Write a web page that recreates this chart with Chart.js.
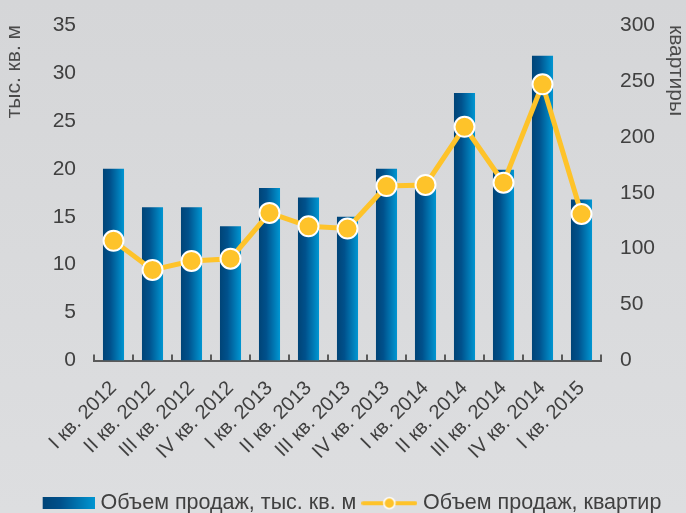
<!DOCTYPE html>
<html>
<head>
<meta charset="utf-8">
<script src="https://cdn.jsdelivr.net/npm/chart.js@4.4.1/dist/chart.umd.min.js"></script>
<style>
  html, body { margin: 0; padding: 0; }
  body { width: 686px; height: 513px; background: linear-gradient(#d5d6d8, #dddee0); }
  #wrap { position: relative; width: 686px; height: 513px; }
</style>
</head>
<body>
<div id="wrap"><canvas id="salesChart"></canvas></div>
<script>
const quarters = ["I кв. 2012", "II кв. 2012", "III кв. 2012", "IV кв. 2012",
    "I кв. 2013", "II кв. 2013", "III кв. 2013", "IV кв. 2013",
    "I кв. 2014", "II кв. 2014", "III кв. 2014", "IV кв. 2014", "I кв. 2015"];
const areaSold = [20, 16, 16, 14, 18, 17, 15, 20, 18.3, 27.9, 19.9, 31.8, 16.8];
const flatsSold = [107, 81, 89, 91, 132, 120, 118, 156, 157, 209, 159, 247, 131];
const areaLabel = "Объем продаж, тыс. кв. м";
const flatsLabel = "Объем продаж, квартир";

const textColor = "#404040";
const lineColor = "#fec32a";
const barPct = 0.54;

function barGradient(ctx) {
    const chart = ctx.chart;
    const xs = chart.scales.x;
    if (!xs || ctx.dataIndex === undefined) return "#00548f";
    const c = xs.getPixelForValue(ctx.dataIndex);
    const half = xs.width / quarters.length * barPct / 2;
    const g = chart.ctx.createLinearGradient(c - half, 0, c + half, 0);
    g.addColorStop(0, "#004477");
    g.addColorStop(0.35, "#00518c");
    g.addColorStop(1, "#0096d2");
    return g;
}

// legend swatches
const barSwatch = document.createElement("canvas");
barSwatch.width = 56; barSwatch.height = 12;
(function () {
    const c = barSwatch.getContext("2d");
    const g = c.createLinearGradient(4, 0, 56, 0);
    g.addColorStop(0, "#004477");
    g.addColorStop(0.35, "#00518c");
    g.addColorStop(1, "#0096d2");
    c.fillStyle = g;
    c.fillRect(4, 0, 52, 12);
})();
const lineSwatch = document.createElement("canvas");
lineSwatch.width = 56; lineSwatch.height = 14;
(function () {
    const c = lineSwatch.getContext("2d");
    c.strokeStyle = lineColor;
    c.lineWidth = 4;
    c.lineCap = "round";
    c.beginPath(); c.moveTo(2, 7); c.lineTo(54, 7); c.stroke();
    c.beginPath(); c.arc(28, 7, 5.5, 0, Math.PI * 2);
    c.fillStyle = lineColor; c.fill();
    c.lineWidth = 1.5; c.strokeStyle = "#ffffff"; c.stroke();
})();

// small tick marks pointing up from the category axis
const upTicks = {
    id: "upTicks",
    afterDatasetsDraw(chart) {
        const xs = chart.scales.x;
        const ctx = chart.ctx;
        ctx.save();
        ctx.strokeStyle = "#5a5a5a";
        ctx.lineWidth = 2;
        for (let i = 0; i <= quarters.length; i++) {
            const x = Math.round(xs.getPixelForValue(i - 0.5));
            ctx.beginPath();
            ctx.moveTo(x, xs.top);
            ctx.lineTo(x, xs.top - 6);
            ctx.stroke();
        }
        ctx.restore();
    }
};

const salesCtx = document.getElementById("salesChart");

new Chart(salesCtx, {
    type: "bar",
    data: {
        labels: quarters,
        datasets: [
            {
                label: areaLabel,
                data: areaSold,
                yAxisID: "y",
                backgroundColor: barGradient,
                barPercentage: barPct,
                categoryPercentage: 1,
                order: 1
            },
            {
                type: "line",
                label: flatsLabel,
                data: flatsSold,
                yAxisID: "y1",
                borderColor: lineColor,
                borderWidth: 5,
                tension: 0,
                pointRadius: 10,
                pointBackgroundColor: lineColor,
                pointBorderColor: "#ffffff",
                pointBorderWidth: 2,
                clip: false,
                order: 0
            }
        ]
    },
    options: {
        responsive: true,
        maintainAspectRatio: false,
        animation: false,
        layout: { autoPadding: false, padding: { top: 25, left: 19, right: 0, bottom: -11 } },
        plugins: {
            tooltip: { enabled: false },
            legend: {
                position: "bottom",
                labels: {
                    usePointStyle: true,
                    pointStyleWidth: 46,
                    boxHeight: 14,
                    padding: 10,
                    color: textColor,
                    font: { family: "Liberation Sans", size: 21.5 },
                    generateLabels() {
                        return [
                            { text: areaLabel, pointStyle: barSwatch, fillStyle: "#00518c", strokeStyle: "transparent", lineWidth: 0, hidden: false, datasetIndex: 0, fontColor: textColor },
                            { text: flatsLabel, pointStyle: lineSwatch, fillStyle: lineColor, strokeStyle: "transparent", lineWidth: 0, hidden: false, datasetIndex: 1, fontColor: textColor }
                        ];
                    }
                }
            }
        },
        scales: {
            x: {
                grid: { display: false },
                border: { display: true, color: "#5a5a5a", width: 2 },
                afterFit(scale) {
                    scale.paddingLeft = 0;
                    scale.paddingRight = 0;
                    scale.height = 122;
                },
                ticks: {
                    autoSkip: false,
                    color: textColor,
                    minRotation: 45,
                    maxRotation: 45,
                    padding: 8,
                    font: { family: "Liberation Sans", size: 20 }
                }
            },
            y: {
                position: "left",
                min: 0,
                max: 35,
                grid: { display: false, drawTicks: false },
                border: { display: false },
                afterFit(scale) {
                    scale.width = 75;
                    scale.paddingTop = 0;
                    scale.paddingBottom = 0;
                },
                ticks: {
                    stepSize: 5,
                    padding: 18,
                    color: textColor,
                    font: { family: "Liberation Sans", size: 21 }
                },
                title: {
                    display: true,
                    text: "тыс. кв. м",
                    align: "end",
                    color: "#4a4a4a",
                    padding: { top: -15, bottom: 0 },
                    font: { family: "Liberation Sans", size: 21, lineHeight: 1 }
                }
            },
            y1: {
                position: "right",
                min: 0,
                max: 300,
                grid: { display: false, drawTicks: false },
                border: { display: false },
                afterFit(scale) {
                    scale.width = 85;
                    scale.paddingTop = 0;
                    scale.paddingBottom = 0;
                },
                ticks: {
                    stepSize: 50,
                    padding: 19,
                    color: textColor,
                    font: { family: "Liberation Sans", size: 21 }
                },
                title: {
                    display: true,
                    text: "квартиры",
                    align: "end",
                    color: "#4a4a4a",
                    padding: { top: 0, bottom: 0 },
                    font: { family: "Liberation Sans", size: 21, lineHeight: 1 }
                }
            }
        }
    },
    plugins: [upTicks]
});
</script>
</body>
</html>
